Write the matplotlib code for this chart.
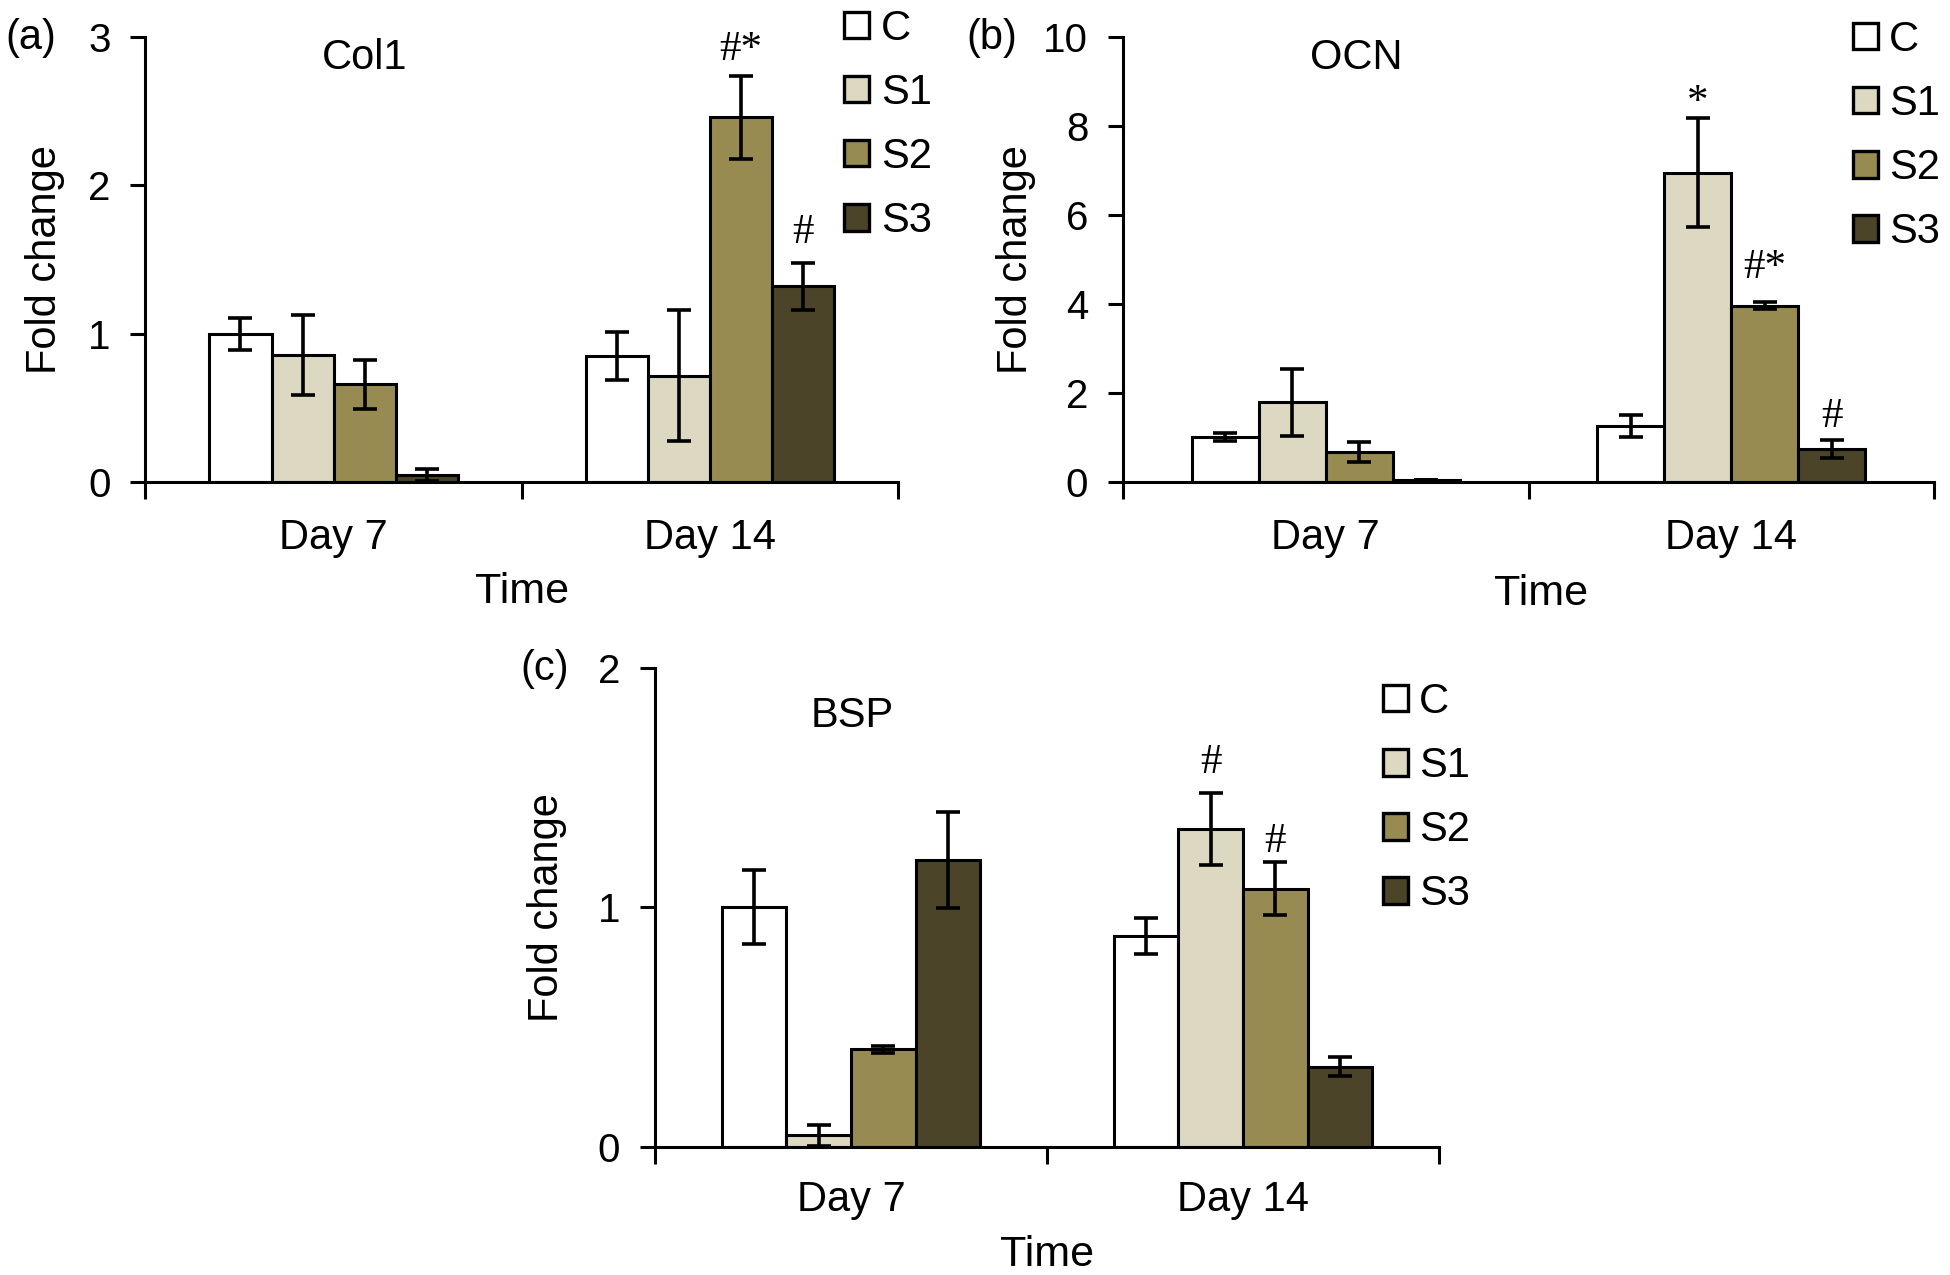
import matplotlib
matplotlib.use('Agg')
import matplotlib.pyplot as plt
import numpy as np
from matplotlib.patches import Patch

plt.rcParams['font.family'] = ['Liberation Sans', 'DejaVu Sans']

# ---------------- data ----------------
groups = ['C', 'S1', 'S2', 'S3']
days = ['Day 7', 'Day 14']
colors = ['#ffffff', '#dcd8c2', '#978b52', '#4b4429']

# Col1 (a)
col1_day7 = [1.00, 0.86, 0.66, 0.05]
col1_day14 = [0.85, 0.72, 2.46, 1.32]
col1_err_day7 = [0.11, 0.27, 0.165, 0.04]
col1_err_day14 = [0.16, 0.44, 0.28, 0.16]

# OCN (b)
ocn_day7 = [1.02, 1.80, 0.69, 0.05]
ocn_day14 = [1.26, 6.95, 3.97, 0.75]
ocn_err_day7 = [0.08, 0.75, 0.22, 0.0]
ocn_err_day14 = [0.25, 1.22, 0.07, 0.20]

# BSP (c)
bsp_day7 = [1.00, 0.047, 0.406, 1.198]
bsp_day14 = [0.88, 1.327, 1.078, 0.333]
bsp_err_day7 = [0.155, 0.045, 0.013, 0.20]
bsp_err_day14 = [0.074, 0.152, 0.11, 0.04]

# significance marks: (day index, group index, text, y baseline)
col1_marks = [(1, 2, '#*', 2.845), (1, 3, '#', 1.61)]
ocn_marks = [(1, 1, '*', 8.30), (1, 2, '#*', 4.59), (1, 3, '#', 1.25)]
bsp_marks = [(1, 1, '#', 1.56), (1, 2, '#', 1.231)]

FS = 30
fig = plt.figure(figsize=(19.5, 12.75), dpi=100)


def panel(rect, title, d7, d14, e7, e14, ymax, yticks, marks, title_xy,
          ylab_x, xlab_y, xlab_x, tickpad, leg_anchor, plabel, plabel_xy):
    ax = fig.add_axes(rect)
    x = np.arange(len(days))
    w = 0.165
    for i, g in enumerate(groups):
        vals = [d7[i], d14[i]]
        errs = [e7[i], e14[i]]
        pos = x + (i - 1.5) * w
        ax.bar(pos, vals, width=w, color=colors[i], edgecolor='black',
               linewidth=2.2, zorder=2, label=g)
        ax.errorbar(pos, vals, yerr=errs, fmt='none', ecolor='black',
                    elinewidth=2.6, capsize=8.5, capthick=2.6, zorder=3)
    for di, gi, txt, yv in marks:
        ax.text(x[di] + (gi - 1.5) * w, yv, txt, ha='center', va='baseline',
                fontsize=31, family=['Liberation Serif', 'DejaVu Serif'])
    ax.set_xlim(-0.5, 1.5)
    ax.set_ylim(0, ymax)
    ax.set_yticks(yticks)
    ax.set_yticklabels([str(t) for t in yticks])
    ax.set_xticks([-0.5, 0.5, 1.5])
    ax.set_xticklabels([])
    ax.set_xticks(x, minor=True)
    ax.set_xticklabels(days, minor=True)
    ax.tick_params(axis='x', which='major', length=12, width=2.2, direction='out')
    ax.tick_params(axis='x', which='minor', length=0, pad=tickpad, labelsize=FS)
    ax.tick_params(axis='y', length=11, width=2.2, direction='out', pad=14,
                   labelsize=29)
    for s in ['top', 'right']:
        ax.spines[s].set_visible(False)
    for s in ['left', 'bottom']:
        ax.spines[s].set_linewidth(2.2)
    ax.spines['bottom'].set_zorder(4)
    ax.text(title_xy[0], title_xy[1], title, transform=ax.transAxes,
            ha='center', va='center', fontsize=FS)
    ax.set_ylabel('Fold change', fontsize=30)
    ax.yaxis.set_label_coords(ylab_x, 0.5)
    ax.set_xlabel('Time', fontsize=31)
    ax.xaxis.set_label_coords(xlab_x, xlab_y)
    handles = [Patch(facecolor=c, edgecolor='black', linewidth=2.4) for c in colors]
    fig.legend(handles, groups, loc='upper left', bbox_to_anchor=leg_anchor,
               bbox_transform=fig.transFigure, frameon=False, fontsize=FS,
               handlelength=0.6, handleheight=0.6, handletextpad=0.28,
               labelspacing=0.58, borderpad=0, borderaxespad=0)
    fig.text(plabel_xy[0], plabel_xy[1], plabel, ha='left', va='center',
             fontsize=FS)
    return ax


panel([0.0746, 0.6216, 0.3859, 0.3494], 'Col1', col1_day7, col1_day14,
      col1_err_day7, col1_err_day14, 3, [0, 1, 2, 3], col1_marks,
      (0.291, 0.953), -0.107, -0.200, 0.5, 25.5, (0.433, 0.9933), '(a)',
      (0.003, 1 - 38 / 1275))

panel([0.5759, 0.6216, 0.4159, 0.3494], 'OCN', ocn_day7, ocn_day14,
      ocn_err_day7, ocn_err_day14, 10, [0, 2, 4, 6, 8, 10], ocn_marks,
      (0.287, 0.953), -0.107, -0.206, 0.515, 25.5, (0.950, 0.9845), '(b)',
      (0.4955, 1 - 38 / 1275))

panel([0.3359, 0.1007, 0.4021, 0.3754], 'BSP', bsp_day7, bsp_day14,
      bsp_err_day7, bsp_err_day14, 2, [0, 1, 2], bsp_marks,
      (0.252, 0.90), -0.112, -0.184, 0.5, 24, (0.709, 0.4652), '(c)',
      (0.2667, 1 - 669 / 1275))

fig.savefig('out.png', dpi=100)
